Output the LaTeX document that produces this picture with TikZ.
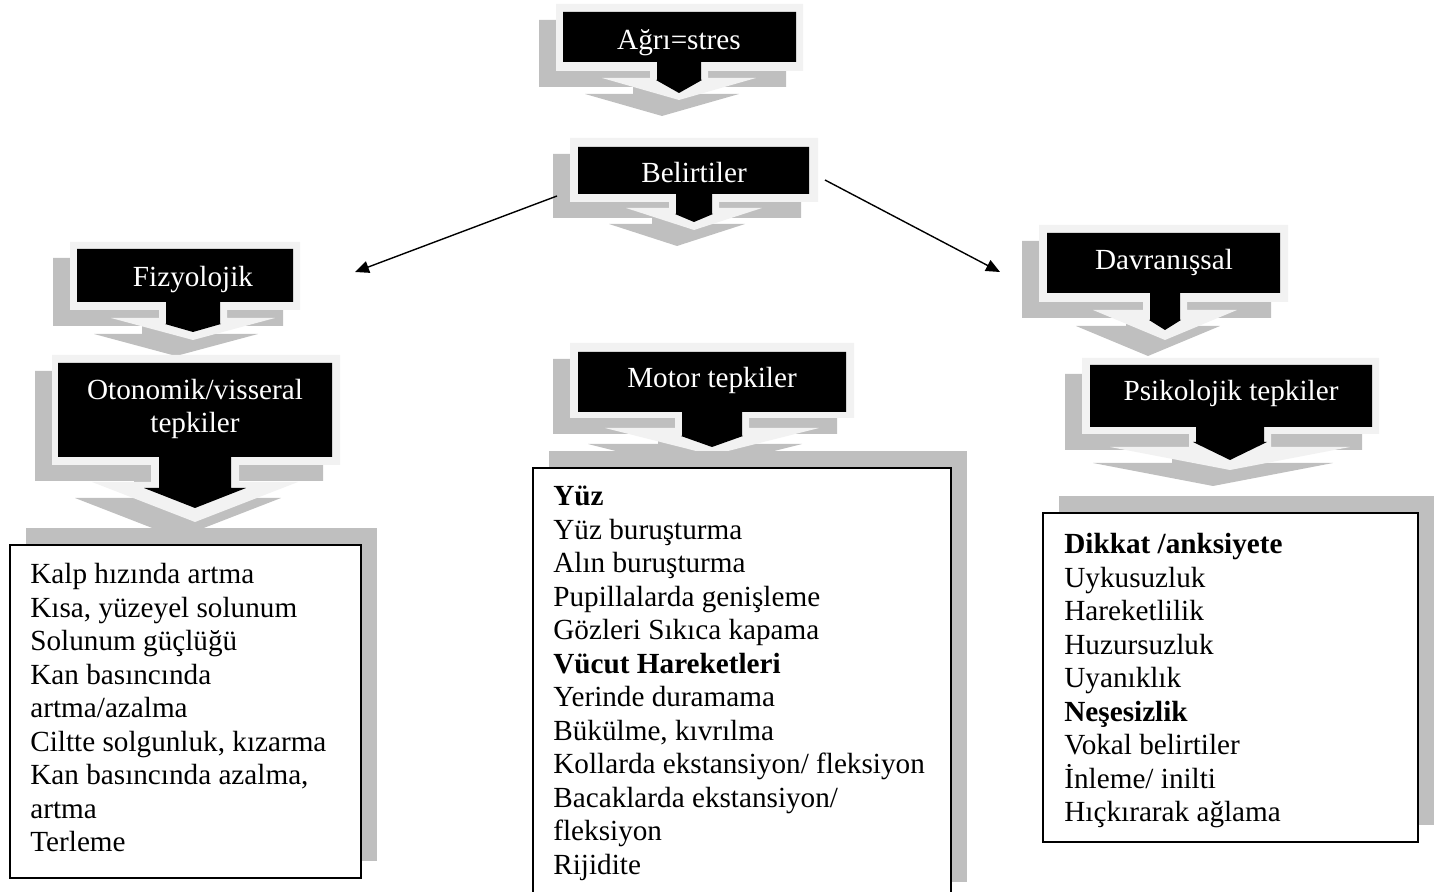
\documentclass[tikz,border=0pt]{standalone}
\usepackage{fontspec}
\setmainfont{Liberation Serif}
\usepackage{tikz}
\usetikzlibrary{arrows.meta, shadows}

\definecolor{rimgray}{HTML}{F2F2F2}
\definecolor{shadegray}{HTML}{BFBFBF}

\newcommand{\txtsize}{\fontsize{14.6}{16.75}\selectfont}
% x1 y1 x2 y2 cx stem base head tip
\newcommand{\callpath}[9]{(#1,#2) -- (#3,#2) -- (#3,#4) -- ({#5+#6},#4) -- ({#5+#6},#7) -- ({#5+#8},#7) -- (#5,#9) -- ({#5-#8},#7) -- ({#5-#6},#7) -- ({#5-#6},#4) -- (#1,#4) -- cycle}
\newcommand{\callrim}[9]{%
	\fill[shadegray, shift={(-17,16)}] \callpath{#1}{#2}{#3}{#4}{#5}{#6}{#7}{#8}{#9};
	\fill[rimgray] \callpath{#1}{#2}{#3}{#4}{#5}{#6}{#7}{#8}{#9};}

\begin{document}
\begin{tikzpicture}[x=0.5pt, y=-0.5pt,
	calltext/.style={text=white, font=\txtsize, inner sep=0pt},
	listbox/.style={draw, line width=1pt, fill=white, inner sep=0pt,
		drop shadow={shadow xshift=8pt, shadow yshift=8.5pt, opacity=1, fill=shadegray}},
	listtext/.style={anchor=north west, align=left, inner sep=0pt, font=\txtsize},
	link/.style={-{Triangle[length=7pt,width=6pt]}, line width=0.7pt}]
	
	\useasboundingbox (0,0) rectangle (1437,892);
	
	%callouts
	\callrim{556}{4}{803}{71}{679}{29}{78}{77}{100}
	\fill[black] \callpath{563}{12}{796}{62}{679}{22}{80}{23}{93};
	\node[calltext, anchor=base] (agri) at (679,50) {Ağrı=stres};
	%
	\callrim{570}{138}{818}{202}{694}{25}{208}{68}{230}
	\fill[black] \callpath{578}{147}{809}{194}{694}{18}{214}{19}{222};
	\node[calltext, anchor=base] (belirti) at (694,183) {Belirtiler};
	%
	\callrim{70}{242}{300}{310}{193}{34}{318}{82}{340}
	\fill[black] \callpath{77}{249}{293}{302}{193}{27}{324}{28}{332};
	\node[calltext, anchor=base] (fizyo) at (193,287) {Fizyolojik};
	%
	\callrim{1039}{225}{1288}{302}{1165}{22}{310}{72}{340}
	\fill[black] \callpath{1047}{233}{1280}{293}{1165}{15}{320}{16}{330};
	\node[calltext, anchor=base] (davran) at (1164,270) {Davranışsal};
	%
	\callrim{52}{355}{340}{465}{195}{44}{482}{103}{522}
	\fill[black] \callpath{58}{363}{332}{457}{195}{36}{488}{51}{508};
	\node[calltext, align=center] (otonom) at (195,409) {Otonomik/visseral\\tepkiler};
	%
	\callrim{570}{343}{854}{418}{712}{37}{428}{107}{455}
	\fill[black] \callpath{578}{352}{846}{412}{712}{30}{436}{31}{447};
	\node[calltext, anchor=base] (motor) at (712,388) {Motor tepkiler};
	%
	\callrim{1082}{358}{1379}{434}{1230}{41}{447}{120}{470}
	\fill[black] \callpath{1090}{365}{1372}{427}{1230}{34}{442}{37}{460};
	\node[calltext, anchor=base] (psiko) at (1231,401) {Psikolojik tepkiler};
	
	%lists
	\node[listbox, minimum width=175.5pt, minimum height=166.5pt] (fizbox) at (185.5,711.5) {};
	\node[listtext] (fizlist) at (30,563) {Kalp hızında artma\\ Kısa, yüzeyel solunum\\ Solunum güçlüğü\\ Kan basıncında\\ artma/azalma\\ Ciltte solgunluk, kızarma\\ Kan basıncında azalma,\\ artma\\ Terleme};
	%
	\node[listbox, minimum width=209pt, minimum height=215.5pt] (motbox) at (742,683.5) {};
	\node[listtext] (motlist) at (553,486) {\textbf{Yüz}\\ Yüz buruşturma\\ Alın buruşturma\\ Pupillalarda genişleme\\ Gözleri Sıkıca kapama\\ \textbf{Vücut Hareketleri}\\ Yerinde duramama\\ Bükülme, kıvrılma\\ Kollarda ekstansiyon/ fleksiyon\\ Bacaklarda ekstansiyon/\\ fleksiyon\\ Rijidite};
	%
	\node[listbox, minimum width=187.5pt, minimum height=164.5pt] (psibox) at (1230.5,677.5) {};
	\node[listtext] (psilist) at (1064,533) {\textbf{Dikkat /anksiyete}\\ Uykusuzluk\\ Hareketlilik\\ Huzursuzluk\\ Uyanıklık\\ \textbf{Neşesizlik}\\ Vokal belirtiler\\ İnleme/ inilti\\ Hıçkırarak ağlama};
	
	%arrows
	\coordinate (belleft) at (557,196);
	\coordinate (fizend) at (355,272);
	\coordinate (belright) at (825,180);
	\coordinate (davend) at (1000,272);
	\draw[link] (belleft) -- (fizend);
	\draw[link] (belright) -- (davend);
\end{tikzpicture}
\end{document}
